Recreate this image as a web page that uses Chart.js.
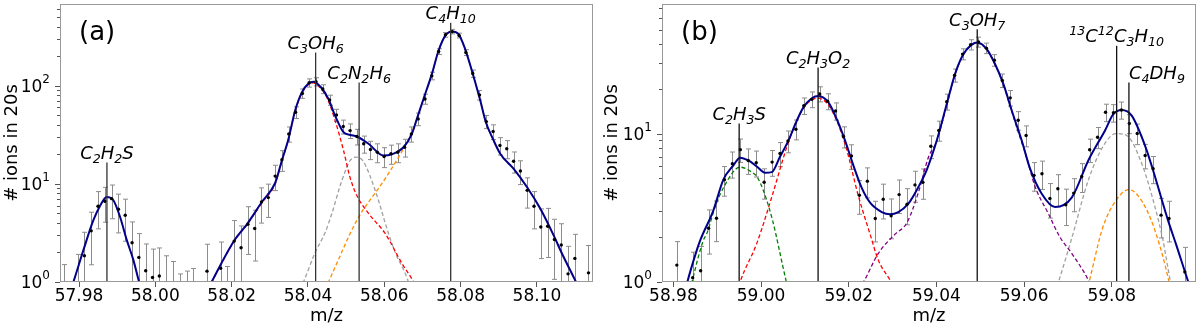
<!DOCTYPE html>
<html>
<head>
<meta charset="utf-8">
<script src="https://cdn.jsdelivr.net/npm/chart.js@4.4.1/dist/chart.umd.min.js"></script>
<style>
  html, body { margin: 0; padding: 0; background: #fff; }
  #wrap { position: relative; width: 1200px; height: 327px; }
  canvas { position: absolute; top: 0; }
</style>
</head>
<body>
<div id="wrap">
  <canvas id="chartA" width="600" height="327" style="left:0"></canvas>
  <canvas id="chartB" width="600" height="327" style="left:600px"></canvas>
</div>
<script>
// ---------- panel (a) : m/z 58 ----------
const massA = [57.97603, 57.97960, 57.98139, 57.98318, 57.98496, 57.98675, 57.98853, 57.99032, 57.99210, 57.99389,
  57.99567, 57.99746, 57.99925, 58.00103, 58.00282, 58.00460, 58.00639, 58.00817, 58.00996, 58.01353,
  58.01710, 58.01889, 58.02067, 58.02246, 58.02424, 58.02603, 58.02781, 58.02960, 58.03139, 58.03317,
  58.03496, 58.03674, 58.03853, 58.04031, 58.04210, 58.04388, 58.04567, 58.04746, 58.04924, 58.05103,
  58.05281, 58.05460, 58.05638, 58.05817, 58.05995, 58.06174, 58.06353, 58.06531, 58.06710, 58.06888,
  58.07067, 58.07245, 58.07424, 58.07602, 58.07781, 58.07960, 58.08138, 58.08317, 58.08495, 58.08674,
  58.08852, 58.09031, 58.09209, 58.09388, 58.09567, 58.09745, 58.09924, 58.10102, 58.10281, 58.10459,
  58.10638, 58.10816, 58.10995, 58.11352];
const countsA = [0.68, 0.94, 1.85, 3.32, 5.91, 6.64, 7.07, 5.51, 4.79, 2.51,
  1.78, 1.30, 1.11, 1.15, 0.90, 0.75, 0.50, 0.55, 0.60, 1.29,
  1.38, 0.64, 2.61, 2.23, 3.88, 3.51, 6.54, 7.24, 12.0, 17.6,
  32.3, 53.6, 83.5, 107, 110, 92.6, 71.6, 50.4, 38.4, 34.9,
  30.4, 25.6, 22.4, 21.0, 19.0, 20.3, 21.0, 23.6, 32.3, 45.9,
  73.3, 126, 223, 330, 356, 325, 218, 133, 80.4, 43.1,
  34.1, 24.6, 22.8, 17.0, 13.5, 8.59, 5.91, 3.64, 3.70, 2.71,
  2.38, 1.21, 1.74, 1.24];

// total fit (gap where it is below the axis)
const fitAmass = [57.97764, 57.97851, 57.98113, 57.98375, 57.98551, 57.98726, 57.98899, 57.99075, 57.99251, 57.99424,
  57.99573, 57.99652, 58.00500,
  58.01382, 58.01474, 58.02064, 58.02413, 58.02790, 58.03139, 58.03315, 58.03488, 58.03663, 58.03839,
  58.04012, 58.04143, 58.04345, 58.04536, 58.04712, 58.04930, 58.05105, 58.05281, 58.05585, 58.05978,
  58.06199, 58.06503, 58.06723, 58.06854, 58.07027, 58.07248, 58.07421, 58.07596, 58.07772, 58.07945,
  58.08121, 58.08296, 58.08514, 58.08663, 58.08847, 58.09038, 58.09387, 58.09738, 58.10087, 58.10436,
  58.10656, 58.10978, 58.11083];
const fitAval = [0.8, 1.0, 2.11, 4.26, 6.0, 7.35, 6.8, 4.6, 2.67, 1.67,
  1.0, 0.8, null,
  0.85, 1.0, 2.63, 3.94, 6.53, 10.2, 17.3, 28.7, 55.8, 85.6,
  105, 110, 95.9, 73.3, 49.3, 33.6, 31.5, 30.4, 25.6, 19.4,
  20.0, 23.6, 32.3, 45.9, 73.3, 132, 227, 322, 356, 335,
  235, 142, 71, 42.4, 28.7, 20.3, 14.3, 9.3, 5.6, 3.0,
  1.95, 1.09, 0.9];

// C3OH6 component (red)
const redAmass = [58.01382, 58.01474, 58.02064, 58.02413, 58.02790, 58.03139, 58.03315, 58.03488, 58.03663, 58.03839,
  58.04012, 58.04143, 58.04319, 58.04494, 58.04712, 58.04930, 58.05105, 58.05281, 58.05585, 58.06023,
  58.06461, 58.06739, 58.06836];
const redAval = [0.85, 1.0, 2.6, 3.9, 6.4, 10.0, 17.0, 28.5, 55, 84,
  103, 107, 95, 76, 44, 22, 11.5, 7.6, 5.0, 3.12,
  1.55, 1.05, 0.9];

// C2N2H6 component (grey)
const greyAmass = [58.03794, 58.03881, 58.04188, 58.04450, 58.04626, 58.04888, 58.05105, 58.05263, 58.05446, 58.05761,
  58.06110, 58.06312, 58.06547, 58.06634, 58.06705];
const greyAval = [0.85, 1.0, 2.0, 3.2, 5.0, 10.8, 17.3, 18.7, 17, 8.6,
  3.12, 1.9, 1.23, 1.0, 0.85];

// C4H10 component (orange)
const orangeAmass = [58.04450, 58.04536, 58.05281, 58.06023, 58.06679, 58.06854, 58.07027, 58.07248, 58.07421, 58.07596,
  58.07772, 58.07945, 58.08121, 58.08296, 58.08514, 58.08663, 58.08847, 58.09038, 58.09387, 58.09738,
  58.10087, 58.10436, 58.10656, 58.10978, 58.11083];
const orangeAval = [0.85, 1.0, 4.26, 11.3, 31, 45.9, 73.3, 132, 227, 322,
  356, 335, 235, 142, 71, 42.4, 28.7, 20.3, 14.3, 9.3,
  5.6, 3.0, 1.95, 1.09, 0.9];

const peaksAmass = [57.9873, 58.0420, 58.0534, 58.0774];
const peaksAtop = [16.5, 218, 108, 439];
const peaksAname = ['C_2H_2S', 'C_3OH_6', 'C_2N_2H_6', 'C_4H_10'];
const peaksAalign = ['center', 'center', 'center', 'center'];

const xTicksA = [57.98, 58.00, 58.02, 58.04, 58.06, 58.08, 58.10];
const yDecadesA = [1, 10, 100];

// ---------- panel (b) : m/z 59 ----------
const massB = [58.98078, 58.98440, 58.98621, 58.98802, 58.98983, 58.99164, 58.99345, 58.99526, 58.99707, 58.99889,
  59.00070, 59.00251, 59.00432, 59.00613, 59.00794, 59.00975, 59.01156, 59.01337, 59.01518, 59.01699,
  59.01880, 59.02061, 59.02242, 59.02424, 59.02605, 59.02786, 59.02967, 59.03148, 59.03329, 59.03510,
  59.03691, 59.03872, 59.04053, 59.04234, 59.04415, 59.04596, 59.04778, 59.04959, 59.05140, 59.05321,
  59.05502, 59.05683, 59.05864, 59.06045, 59.06226, 59.06407, 59.06588, 59.06769, 59.06950, 59.07131,
  59.07313, 59.07494, 59.07675, 59.07856, 59.08037, 59.08218, 59.08399, 59.08580, 59.08761, 59.08942,
  59.09123, 59.09304, 59.09666];
const countsB = [1.30, 1.07, 1.19, 2.30, 2.69, 4.89, 6.26, 7.79, 6.59, 6.36,
  4.70, 6.42, 7.34, 8.91, 10.7, 15.4, 17.0, 18.5, 16.5, 14.2,
  9.55, 7.07, 3.84, 4.78, 2.68, 3.61, 2.79, 3.88, 3.34, 4.51,
  4.69, 8.21, 10.5, 16.4, 24.7, 34.3, 39.7, 41.4, 37.6, 31.2,
  22.8, 17.4, 12.3, 9.70, 5.23, 5.36, 3.65, 4.25, 3.31, 3.97,
  5.14, 7.77, 9.45, 13.9, 13.8, 14.4, 11.7, 10.0, 7.12, 5.80,
  2.82, 2.68, 1.17];

const fitBmass = [58.98244, 58.98319, 58.98534, 58.98609, 58.98912, 58.99140, 58.99368, 58.99521, 58.99710, 58.99902,
  59.00091, 59.00244, 59.00433, 59.00623, 59.00814, 59.00965, 59.01156, 59.01311, 59.01535, 59.01726,
  59.01916, 59.02105, 59.02296, 59.02486, 59.02753, 59.02942, 59.03131, 59.03359, 59.03587, 59.03779,
  59.04007, 59.04235, 59.04424, 59.04613, 59.04805, 59.04933, 59.05147, 59.05336, 59.05526, 59.05717,
  59.05945, 59.06135, 59.06401, 59.06705, 59.07085, 59.07464, 59.07845, 59.08034, 59.08226, 59.08454,
  59.08757, 59.08946, 59.09138, 59.09282, 59.09464, 59.09745, 59.09829];
const fitBval = [0.8, 1.0, 1.64, 1.9, 3.04, 4.9, 6.1, 6.88, 6.59, 6.0,
  5.45, 5.5, 7.0, 8.97, 12.2, 15.0, 17.3, 17.9, 16.2, 12.5,
  8.97, 6.1, 4.3, 3.42, 2.96, 2.86, 2.96, 3.37, 4.36, 5.7,
  8.97, 15.8, 25.2, 34.2, 39.7, 41.0, 37.0, 29.4, 21.6, 14.3,
  8.97, 5.8, 3.93, 3.2, 3.7, 6.59, 10.5, 13.5, 14.4, 13.2,
  8.3, 5.6, 3.6, 2.6, 1.8, 1.0, 0.85];

// C2H3S (green)
const greenBmass = [58.98358, 58.98426, 58.98684, 58.98762, 58.98951, 58.99156, 58.99521, 58.99788, 58.99909, 59.00052,
  59.00262, 59.00577, 59.00639];
const greenBval = [0.8, 1.0, 1.91, 2.12, 3.2, 4.4, 5.94, 5.5, 5.1, 4.14,
  2.6, 1.0, 0.85];

// C2H3O2 (red)
const redBmass = [58.99453, 58.99521, 58.99902, 59.00244, 59.00586, 59.00814, 59.01042, 59.01293, 59.01574, 59.01916,
  59.02219, 59.02486, 59.02675, 59.02942, 59.03010];
const redBval = [0.85, 1.0, 1.82, 3.74, 8.1, 12.2, 15.8, 17.3, 15.0, 8.5,
  3.8, 2.1, 1.4, 1.03, 0.95];

// C3OH7 (purple)
const purpleBmass = [59.02212, 59.02333, 59.02675, 59.03056, 59.03323, 59.03587, 59.03815, 59.04007, 59.04235, 59.04424,
  59.04613, 59.04805, 59.04933, 59.05147, 59.05336, 59.05526, 59.05717, 59.05945, 59.06021, 59.06249,
  59.06552, 59.06819, 59.07085, 59.07464, 59.07548];
const purpleBval = [0.9, 1.0, 1.56, 2.1, 2.5, 4.0, 6.9, 8.9, 15.6, 25,
  34, 39.5, 40.7, 36.7, 29.2, 21.4, 14.1, 8.7, 7.5, 4.4,
  2.89, 2.0, 1.56, 1.03, 0.9];

// 13C12C3H10 (grey)
const greyBmass = [59.06705, 59.06784, 59.07092, 59.07469, 59.07822, 59.08096, 59.08340, 59.08689, 59.08997, 59.09168,
  59.09339, 59.09396];
const greyBval = [0.85, 1.0, 2.0, 4.9, 8.4, 10.0, 9.7, 6.2, 3.1, 1.9,
  1.0, 0.85];

// C4DH9 (orange)
const orangeBmass = [59.07412, 59.07480, 59.07788, 59.08096, 59.08392, 59.08700, 59.09008, 59.09305, 59.09350];
const orangeBval = [0.85, 1.0, 2.3, 3.55, 4.19, 3.45, 2.12, 1.0, 0.85];

const peaksBmass = [58.9950, 59.0130, 59.0493, 59.0811, 59.0839];
const peaksBtop = [11.7, 27.9, 50.4, 39, 22.1];
const peaksBname = ['C_2H_3S', 'C_2H_3O_2', 'C_3OH_7', '^13C^12C_3H_10', 'C_4DH_9'];
const peaksBalign = ['center', 'center', 'center', 'center', 'left'];

const xTicksB = [58.98, 59.00, 59.02, 59.04, 59.06, 59.08];
const yDecadesB = [1, 10];

// ---------- drawing ----------
Chart.defaults.font.family = 'DejaVu Sans';
Chart.defaults.color = '#000';

function pts(xs, ys) { return xs.map((x, i) => ({x: x, y: ys[i]})); }

function curve(xs, ys, color, dashed) {
  return {
    data: pts(xs, ys), showLine: true, borderColor: color,
    borderWidth: dashed ? 1.3 : 2, borderDash: dashed ? [4, 2.5] : [],
    pointRadius: 0, cubicInterpolationMode: 'monotone', clip: 0
  };
}

// formula like '^13C^12C_3H_10' drawn with sub/superscripts
function drawFormula(ctx, text, x, base, align) {
  const parts = text.match(/\^\d+|_\d+|[^_^]+/g);
  const big = 'italic 18px DejaVu Sans', small = 'italic 12.6px DejaVu Sans';
  const runs = parts.map(p => {
    if (p[0] === '_') return {t: p.slice(1), f: small, dy: 4};
    if (p[0] === '^') return {t: p.slice(1), f: small, dy: -7};
    return {t: p, f: big, dy: 0};
  });
  let w = 0;
  runs.forEach(r => { ctx.font = r.f; r.w = ctx.measureText(r.t).width; w += r.w; });
  let cx = align === 'left' ? x : x - w / 2;
  ctx.fillStyle = '#000';
  ctx.textAlign = 'left';
  ctx.textBaseline = 'alphabetic';
  runs.forEach(r => { ctx.font = r.f; ctx.fillText(r.t, cx, base + r.dy); cx += r.w; });
}

function panelPlugin(p) {
  return {
    id: 'panel' + p.letter,
    beforeDatasetsDraw(chart) {
      // error bars
      const {ctx, chartArea: a, scales: {x, y}} = chart;
      ctx.save();
      ctx.beginPath();
      ctx.rect(a.left, a.top, a.right - a.left, a.bottom - a.top);
      ctx.clip();
      ctx.strokeStyle = '#8c8c8c';
      ctx.lineWidth = 1;
      p.mass.forEach((m, i) => {
        const v = p.counts[i];
        const e = Math.sqrt(v) * p.errScale;  // counting error
        const px = Math.round(x.getPixelForValue(m)) + 0.5;
        const top = y.getPixelForValue(v + e);
        const bot = v - e > 0 ? y.getPixelForValue(v - e) : a.bottom + 10;
        ctx.beginPath();
        ctx.moveTo(px, top); ctx.lineTo(px, bot);
        ctx.moveTo(px - 2.5, top); ctx.lineTo(px + 2.5, top);
        ctx.moveTo(px - 2.5, bot); ctx.lineTo(px + 2.5, bot);
        ctx.stroke();
      });
      ctx.restore();
    },
    afterDatasetsDraw(chart) {
      const {ctx, chartArea: a, scales: {x, y}} = chart;
      ctx.save();
      // peak markers
      ctx.strokeStyle = p.lineColor;
      ctx.lineWidth = 1.3;
      p.peaks.forEach((m, i) => {
        const px = x.getPixelForValue(m);
        const top = y.getPixelForValue(p.tops[i]);
        ctx.beginPath();
        ctx.moveTo(px, a.bottom); ctx.lineTo(px, top);
        ctx.stroke();
        drawFormula(ctx, p.names[i], px, top - 3.5, p.aligns[i]);
      });
      // frame
      ctx.strokeStyle = '#999';
      ctx.lineWidth = 1;
      ctx.strokeRect(Math.round(a.left) + 0.5, Math.round(a.top) + 0.5,
        Math.round(a.right - a.left) - 1, Math.round(a.bottom - a.top) - 1);
      // log ticks
      ctx.strokeStyle = '#555';
      p.decades.forEach(d => {
        for (let k = 1; k <= 9; k++) {
          const v = d * k;
          if (v < y.min || v > y.max) continue;
          const py = Math.round(y.getPixelForValue(v)) + 0.5;
          ctx.beginPath();
          ctx.moveTo(a.left, py); ctx.lineTo(a.left - (k === 1 ? 5 : 3), py);
          ctx.stroke();
        }
        const py = y.getPixelForValue(d);
        const exp = String(Math.round(Math.log10(d)));
        ctx.font = '12px DejaVu Sans';
        const we = ctx.measureText(exp).width;
        ctx.font = '17px DejaVu Sans';
        const wb = ctx.measureText('10').width;
        const right = a.left - 10;
        ctx.fillStyle = '#000';
        ctx.textAlign = 'left';
        ctx.textBaseline = 'alphabetic';
        ctx.fillText('10', right - we - wb, py + 6);
        ctx.font = '12px DejaVu Sans';
        ctx.fillText(exp, right - we, py - 3);
      });
      // panel letter
      ctx.font = '26px DejaVu Sans';
      ctx.fillStyle = '#000';
      ctx.fillText('(' + p.letter + ')', a.left + 19, 39.5);
      ctx.restore();
    }
  };
}

function makeChart(id, p) {
  const datasets = [
    {data: pts(p.mass, p.counts), showLine: false, pointRadius: 1.7,
     pointBackgroundColor: '#000', pointBorderWidth: 0, clip: 0},
    curve(p.fit[0], p.fit[1], '#00008b', false)
  ];
  p.comps.forEach(c => datasets.push(curve(c[0], c[1], c[2], true)));
  return new Chart(document.getElementById(id), {
    type: 'scatter',
    data: {datasets: datasets},
    options: {
      responsive: false,
      animation: false,
      events: [],
      layout: {padding: {left: 0, right: p.padRight, top: 3, bottom: 0}},
      plugins: {legend: {display: false}, tooltip: {enabled: false}},
      scales: {
        x: {
          type: 'linear', min: p.xmin, max: p.xmax,
          afterBuildTicks: s => { s.ticks = p.xticks.map(v => ({value: v})); },
          afterFit: s => { s.height = 45; },
          ticks: {font: {size: 17}, color: '#000', padding: -1, maxRotation: 0, autoSkip: false,
                  callback: v => v.toFixed(2)},
          grid: {drawOnChartArea: false, tickLength: 5, color: '#555'},
          border: {display: false},
          title: {display: true, text: 'm/z', font: {size: 18}, color: '#000', padding: {top: 0, bottom: 0}}
        },
        y: {
          type: 'logarithmic', min: 1, max: p.ymax,
          afterFit: s => { s.width = p.yWidth; },
          ticks: {display: false},
          grid: {display: false},
          border: {display: false},
          title: {display: true, text: '# ions in 20s', font: {size: 18}, color: '#000', padding: {top: 2, bottom: 0}}
        }
      }
    },
    plugins: [panelPlugin(p)]
  });
}

makeChart('chartA', {
  letter: 'a', mass: massA, counts: countsA, errScale: 1,
  fit: [fitAmass, fitAval],
  comps: [[redAmass, redAval, '#ff0000'], [greyAmass, greyAval, '#a0a0a0'], [orangeAmass, orangeAval, '#ff8c00']],
  peaks: peaksAmass, tops: peaksAtop, names: peaksAname, aligns: peaksAalign, lineColor: '#333',
  xticks: xTicksA, decades: yDecadesA,
  xmin: 57.975, xmax: 58.1147, ymax: 680, yWidth: 60, padRight: 7
});

makeChart('chartB', {
  letter: 'b', mass: massB, counts: countsB, errScale: 0.5,
  fit: [fitBmass, fitBval],
  comps: [[greenBmass, greenBval, '#008000'], [redBmass, redBval, '#ff0000'], [purpleBmass, purpleBval, '#800080'],
          [greyBmass, greyBval, '#a0a0a0'], [orangeBmass, orangeBval, '#ff8c00']],
  peaks: peaksBmass, tops: peaksBtop, names: peaksBname, aligns: peaksBalign, lineColor: '#111',
  xticks: xTicksB, decades: yDecadesB,
  xmin: 58.9774, xmax: 59.0992, ymax: 74.6, yWidth: 62, padRight: 4
});
</script>
</body>
</html>
